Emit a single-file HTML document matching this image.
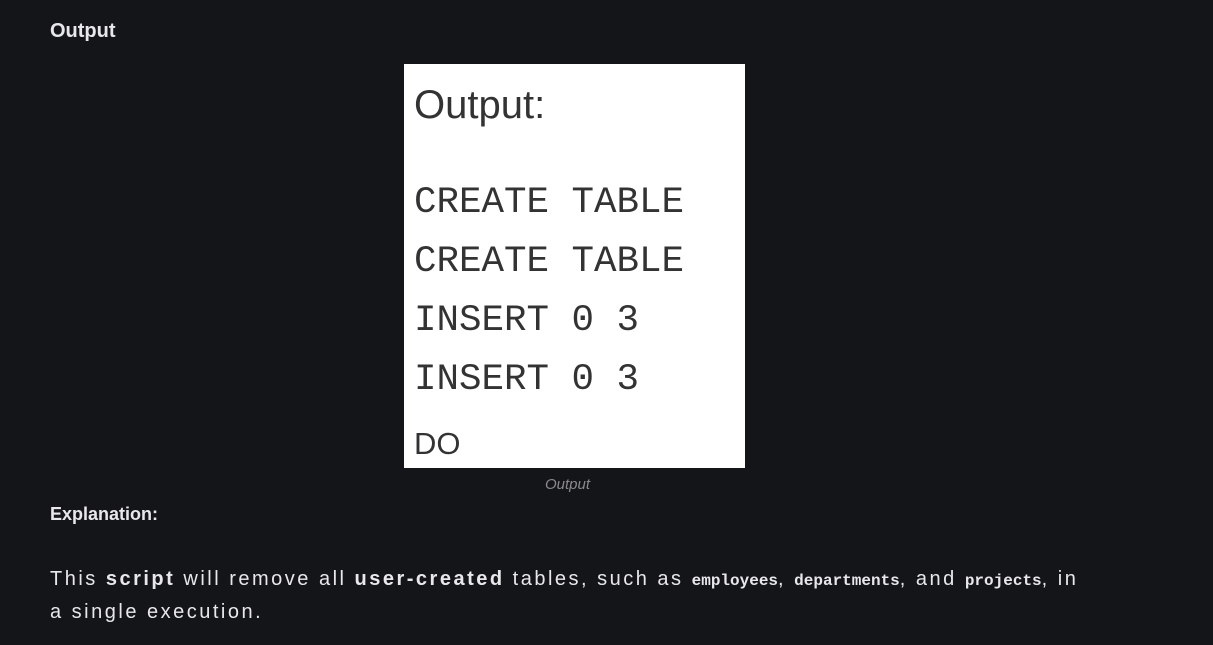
<!DOCTYPE html>
<html><head><meta charset="utf-8"><style>
html,body{margin:0;padding:0;background:#141519;width:1213px;height:645px;overflow:hidden;font-family:"Liberation Sans",sans-serif;color:#e8e8ea}
.a{position:absolute;white-space:nowrap}
.img{position:absolute;left:404px;top:64px;width:341px;height:404px;background:#fff;color:#333}
.m{position:absolute;left:10px;font-family:"Liberation Mono",monospace;font-size:37.5px;line-height:1}
code{font-family:"Liberation Mono",monospace;font-weight:bold;font-size:16px;letter-spacing:0}
</style></head><body>
<div class="a" style="left:50px;top:20px;font-size:20px;font-weight:bold">Output</div>
<div class="img">
<div class="a" style="left:10px;top:19px;font-size:40px;color:#333">Output:</div>
<div class="m" style="top:121px">CREATE TABLE</div>
<div class="m" style="top:180px">CREATE TABLE</div>
<div class="m" style="top:239px">INSERT 0 3</div>
<div class="m" style="top:298px">INSERT 0 3</div>
<div class="a" style="left:10px;top:362px;font-size:31px;color:#333">DO</div>
</div>
<div class="a" style="left:545px;top:476px;font-size:15px;font-style:italic;color:#8a8a8a">Output</div>
<div class="a" style="left:50px;top:504px;font-size:18px;font-weight:bold">Explanation:</div>
<div class="a" style="left:50px;top:564px;font-size:20px;line-height:31px;letter-spacing:2.5px">This <b>script</b> will remove all <b>user-created</b> tables, such as <code>employees</code>, <code>departments</code>, and <code>projects</code>, in<br>a single execution.</div>
</body></html>
